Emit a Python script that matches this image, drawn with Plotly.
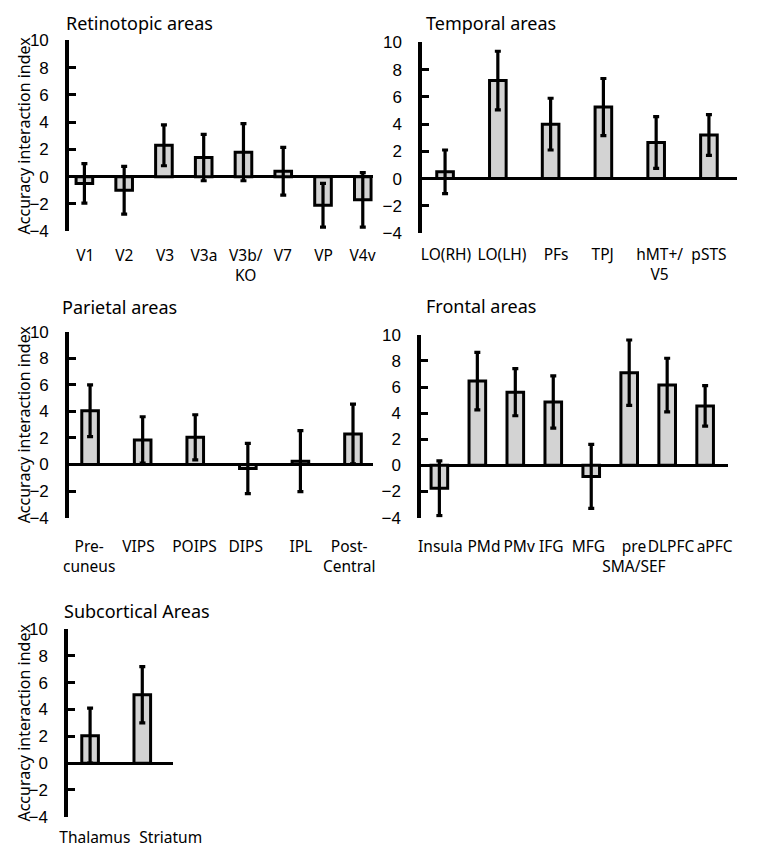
import plotly.graph_objects as go

W, H = 767, 853
# The page keeps the browser's default 8px body margin, so a picture pixel t
# corresponds to figure pixel t - 8.  Geometry below is in picture pixels.
PAD = 8


def dx(t):
    return t - PAD


def dy(t):
    return t - PAD


def fx(t):
    return min(max(dx(t) / W, 0.0), 1.0)


def fy(t):
    return min(max(1 - dy(t) / H, 0.0), 1.0)


# ---------------- data ----------------
retino_labels = ["V1", "V2", "V3", "V3a", "V3b/<br>KO", "V7", "VP", "V4v"]
retino_vals = [-0.5, -1.0, 2.3, 1.4, 1.8, 0.4, -2.1, -1.7]
retino_err = [1.45, 1.75, 1.5, 1.7, 2.1, 1.75, 1.6, 2.0]

temporal_labels = ["LO(RH)", "LO(LH)", "PFs", "TPJ", "hMT+/<br>V5", "pSTS"]
temporal_vals = [0.5, 7.2, 4.0, 5.25, 2.65, 3.2]
temporal_err = [1.6, 2.15, 1.9, 2.1, 1.9, 1.5]

parietal_labels = ["Pre-<br>cuneus", "VIPS", "POIPS", "DIPS", "IPL", "Post-<br>Central"]
parietal_vals = [4.05, 1.85, 2.05, -0.3, 0.25, 2.3]
parietal_err = [1.95, 1.75, 1.7, 1.9, 2.3, 2.25]

frontal_labels = ["Insula", "PMd", "PMv", "IFG", "MFG", "pre<br>SMA/SEF", "DLPFC", "aPFC"]
frontal_vals = [-1.75, 6.45, 5.6, 4.85, -0.85, 7.1, 6.15, 4.55]
frontal_err = [2.1, 2.2, 1.8, 2.0, 2.45, 2.5, 2.05, 1.55]

subcort_labels = ["Thalamus", "Striatum"]
subcort_vals = [2.05, 5.1]
subcort_err = [2.05, 2.1]

panel_titles = ["Retinotopic areas", "Temporal areas", "Parietal areas",
                "Frontal areas", "Subcortical Areas"]
y_title = "Accuracy interaction index"
y_ticks = [-4, -2, 0, 2, 4, 6, 8, 10]

# ---------------- layout geometry (picture pixels) ----------------
# ax: y-axis line centre, x1: baseline end, yt/yb: rows of y=10 / y=-4,
# c0/sp: first bar centre / bar pitch, cap: top of first label line
panels = [
    dict(labels=retino_labels, vals=retino_vals, err=retino_err,
         ax=61, x1=383, yt=32, yb=227, c0=79, sp=41.9, cap=242.7,
         lab_px=[80, 121, 164, 205, 249, 288, 331, 372],
         tx=57, ty=14, ytx=15),
    dict(labels=temporal_labels, vals=temporal_vals, err=temporal_err,
         ax=433, x1=767, yt=34, yb=229, c0=459, sp=55.6, cap=241.7,
         lab_px=[460, 519, 576, 625, 685, 737],
         tx=437, ty=14, ytx=None),
    dict(labels=parietal_labels, vals=parietal_vals, err=parietal_err,
         ax=61, x1=383, yt=330, yb=520, c0=85, sp=55.4, cap=540.7,
         lab_px=[84, 136, 195, 249, 307, 358],
         tx=53, ty=305, ytx=15),
    dict(labels=frontal_labels, vals=frontal_vals, err=frontal_err,
         ax=432, x1=757, yt=333, yb=520, c0=453, sp=40.0, cap=541,
         lab_px=[454, 500, 537, 571, 610, 658, 697, 743],
         tx=437, ty=304, ytx=None),
    dict(labels=subcort_labels, vals=subcort_vals, err=subcort_err,
         ax=60, x1=172, yt=634, yb=826, c0=85, sp=55.0, cap=839,
         lab_px=[90, 170],
         tx=55, ty=616, ytx=15),
]

SANS = "Noto Sans, Open Sans, sans-serif"
LABEL_FONT = dict(family=SANS, size=15.5, color="black")
TICK_FONT = dict(family="Liberation Sans, Arial, sans-serif", size=17, color="black")
AXIS_LW = 4
BAR_PX = 17.5
LABEL_PAD = 3

fig = go.Figure()
layout = dict(
    width=W, height=H, margin=dict(l=0, r=0, t=0, b=0),
    paper_bgcolor="white", plot_bgcolor="white", showlegend=False,
    annotations=[],
)

for i, p in enumerate(panels, start=1):
    n = len(p["labels"])
    xs = list(range(n))
    sp = p["sp"]
    c0 = dx(p["c0"])
    x0 = dx(p["ax"]) + AXIS_LW / 2
    x1 = min(dx(p["x1"]), W)
    lo = -(c0 - x0) / sp
    hi = (x1 - c0) / sp
    tickpos = [(dx(q) - c0) / sp for q in p["lab_px"]]
    stand = max(dy(p["cap"]) - dy(p["yb"]) - LABEL_PAD, 0)
    xa = "x" if i == 1 else f"x{i}"
    ya = "y" if i == 1 else f"y{i}"
    fig.add_trace(go.Bar(
        x=xs, y=p["vals"], xaxis=xa, yaxis=ya,
        width=BAR_PX / sp,
        marker=dict(color="#d3d3d3", line=dict(color="black", width=3)),
        error_y=dict(type="data", array=p["err"], visible=True,
                     color="black", thickness=3.2, width=3),
        hoverinfo="skip",
    ))
    xkey = "xaxis" if i == 1 else f"xaxis{i}"
    ykey = "yaxis" if i == 1 else f"yaxis{i}"
    layout[xkey] = dict(
        domain=[x0 / W, x1 / W], anchor=ya,
        range=[lo, hi], tickvals=tickpos, ticktext=p["labels"], tickangle=0,
        showgrid=False, zeroline=False, showline=False, ticks="",
        tickfont=LABEL_FONT, ticklabelstandoff=round(stand), fixedrange=True,
    )
    layout[ykey] = dict(
        domain=[fy(p["yb"]), fy(p["yt"])], anchor=xa,
        range=[-4, 10], tickvals=y_ticks,
        showgrid=False, zeroline=True, zerolinecolor="black", zerolinewidth=3,
        showline=True, linecolor="black", linewidth=AXIS_LW,
        ticks="inside", ticklen=7, tickwidth=3, tickcolor="black",
        tickfont=TICK_FONT, ticklabelstandoff=13, fixedrange=True,
    )
    layout["annotations"].append(dict(
        text=panel_titles[i - 1], xref="paper", yref="paper",
        x=fx(p["tx"]), y=fy(p["ty"]), xanchor="left", yanchor="middle",
        showarrow=False, font=dict(family=SANS, size=18, color="black"),
    ))
    if p["ytx"] is not None:
        layout["annotations"].append(dict(
            text=y_title, xref="paper", yref="paper", textangle=-90,
            x=fx(p["ytx"]), y=fy((p["yt"] + p["yb"]) / 2),
            xanchor="center", yanchor="middle", showarrow=False,
            font=dict(family=SANS, size=16, color="black"),
        ))

fig.update_layout(**layout)
fig.write_html("out.html", config={"displayModeBar": False})
